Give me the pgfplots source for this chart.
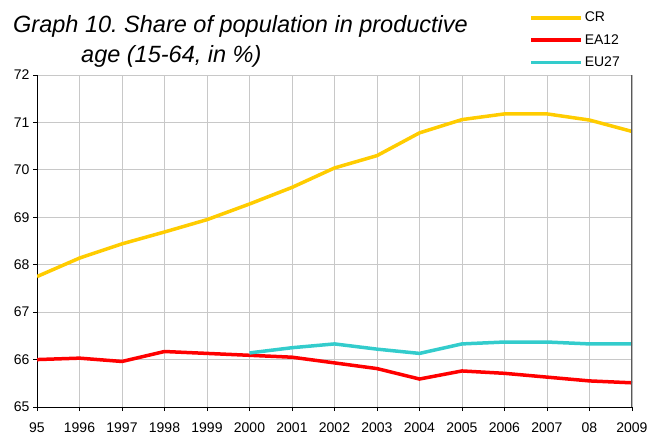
\documentclass[border=0pt]{standalone}
\usepackage{pgfplots}
\pgfplotsset{compat=1.18}
\usepackage{fontspec}
\setmainfont{Liberation Sans}
\definecolor{crcol}{HTML}{FFCC00}
\definecolor{eacol}{HTML}{FF0000}
\definecolor{eucol}{HTML}{33CCCC}
\definecolor{gridcol}{HTML}{C8C8C8}
\frenchspacing
\begin{document}
\begin{tikzpicture}
\path[use as bounding box] (0,0) rectangle (650pt,436pt);
\begin{axis}[
  at={(37pt,29pt)}, anchor=south west,
  scale only axis, width=595pt, height=332pt,
  xmin=1995, xmax=2009, ymin=65, ymax=72,
  xtick={1995,...,2009},
  xticklabels={95,1996,1997,1998,1999,2000,2001,2002,2003,2004,2005,2006,2007,08,2009},
  ytick={65,...,72},
  axis x line*=bottom, axis y line*=left,
  axis line style={black, line width=0.8pt, -},
  grid=major,
  major grid style={gridcol, line width=0.8pt},
  tick align=outside, major tick length=4pt,
  tick style={black, line width=0.8pt},
  /pgf/number format/assume math mode=true,
  tick label style={font=\fontsize{14}{14}\selectfont},
  xticklabel style={yshift=-8pt},
  legend style={at={(0.827,1.196)}, anchor=north west, draw=none, fill=none,
    font=\fontsize{14}{14}\selectfont, row sep=7pt, inner sep=0pt},
  legend cell align=left,
  legend image code/.code={\draw[#1, line width=3.5pt] (0pt,0pt) -- (50pt,0pt);},
]
\addplot[crcol, line width=3.5pt] coordinates {
(1995,67.75) (1996,68.14) (1997,68.44) (1998,68.69) (1999,68.95) (2000,69.28)
(2001,69.63) (2002,70.04) (2003,70.30) (2004,70.78) (2005,71.06) (2006,71.18)
(2007,71.18) (2008,71.05) (2009,70.81)};
\addlegendentry{CR}
\addplot[eacol, line width=3.5pt] coordinates {
(1995,66.00) (1996,66.03) (1997,65.96) (1998,66.17) (1999,66.13) (2000,66.09)
(2001,66.05) (2002,65.93) (2003,65.81) (2004,65.59) (2005,65.76) (2006,65.71)
(2007,65.63) (2008,65.55) (2009,65.51)};
\addlegendentry{EA12}
\addplot[eucol, line width=3.5pt] coordinates {
(2000,66.14) (2001,66.25) (2002,66.33) (2003,66.22) (2004,66.13) (2005,66.33)
(2006,66.37) (2007,66.37) (2008,66.33) (2009,66.33)};
\addlegendentry{EU27}
\draw[black!65, line width=1.6pt] (rel axis cs:1,0) -- (rel axis cs:1,1);
\end{axis}
\node[anchor=base west, inner sep=0pt, font=\fontsize{23.5}{23.5}\selectfont\itshape] at (13pt,403pt) {Graph 10. Share of population in productive};
\node[anchor=base west, inner sep=0pt, font=\fontsize{23.5}{23.5}\selectfont\itshape] at (81pt,373pt) {age (15-64, in \%)};
\end{tikzpicture}
\end{document}
